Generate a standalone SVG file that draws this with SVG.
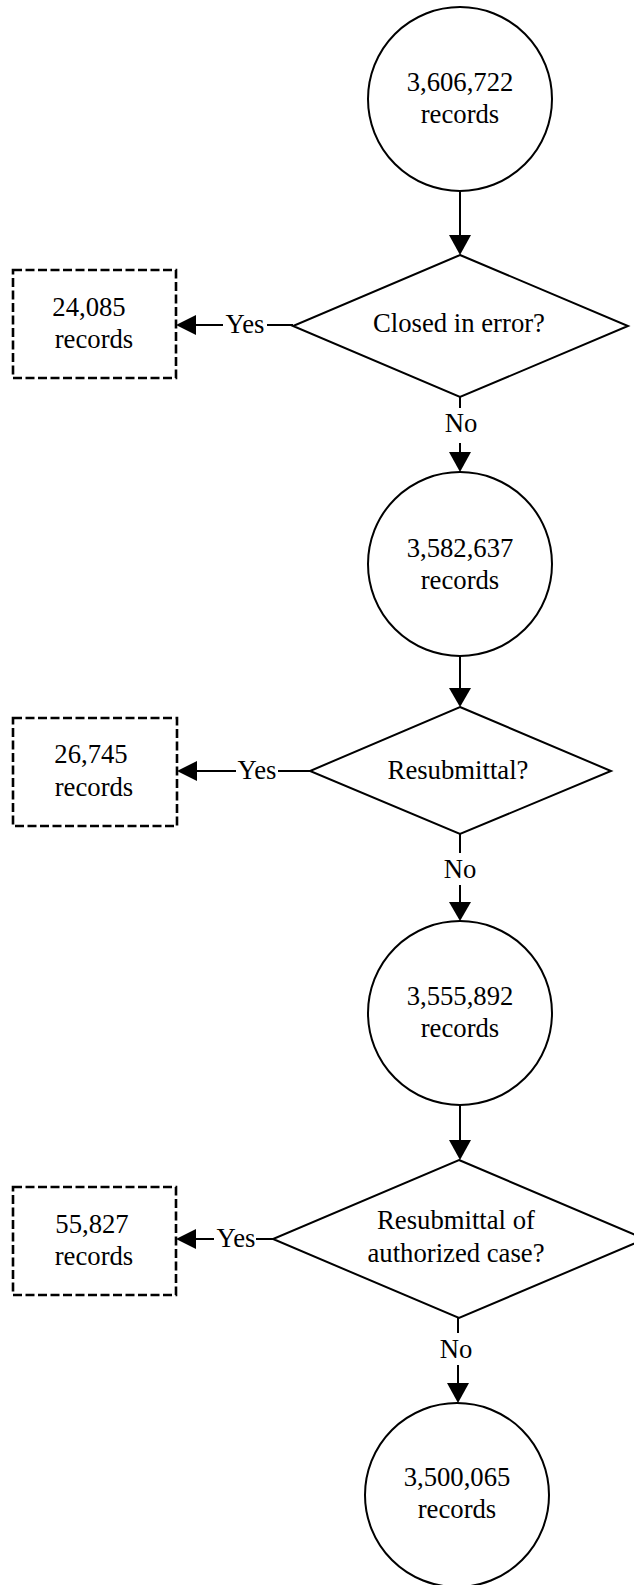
<svg xmlns="http://www.w3.org/2000/svg" width="634" height="1585" viewBox="0 0 634 1585">
<style>
.shape{fill:#fff;stroke:#000;stroke-width:2}
.box{fill:#fff;stroke:#000;stroke-width:2.6;stroke-dasharray:9 3.5}
.line{fill:none;stroke:#000;stroke-width:2}
.head{fill:#000;stroke:none}
text{font-family:"Liberation Serif","Times New Roman",serif;font-size:26.7px;fill:#000;text-anchor:middle}
</style>
<rect width="634" height="1585" fill="#fff"/>
<g id="connectors">
<line class="line" x1="460" y1="191" x2="460" y2="237"/>
<polygon class="head" points="449,235 471,235 460,255"/>
<line class="line" x1="293" y1="325" x2="267" y2="325"/>
<line class="line" x1="223" y1="325" x2="194" y2="325"/>
<polygon class="head" points="196,315 196,335 176,325"/>
<text x="245" y="333">Yes</text>
<line class="line" x1="460" y1="397" x2="460" y2="408"/>
<text x="461" y="432">No</text>
<line class="line" x1="460" y1="443" x2="460" y2="454"/>
<polygon class="head" points="449,452 471,452 460,472"/>
<line class="line" x1="460" y1="656" x2="460" y2="690"/>
<polygon class="head" points="449,688 471,688 460,707"/>
<line class="line" x1="310" y1="771" x2="278" y2="771"/>
<line class="line" x1="236" y1="771" x2="194" y2="771"/>
<polygon class="head" points="197,761 197,781 177,771"/>
<text x="257" y="779">Yes</text>
<line class="line" x1="460" y1="834" x2="460" y2="853"/>
<text x="460" y="878">No</text>
<line class="line" x1="460" y1="885" x2="460" y2="904"/>
<polygon class="head" points="449,902 471,902 460,921"/>
<line class="line" x1="460" y1="1105" x2="460" y2="1142"/>
<polygon class="head" points="449,1140 471,1140 460,1160"/>
<line class="line" x1="273" y1="1239" x2="256" y2="1239"/>
<line class="line" x1="214" y1="1239" x2="194" y2="1239"/>
<polygon class="head" points="196,1229 196,1249 176,1239"/>
<text x="236" y="1247">Yes</text>
<line class="line" x1="458" y1="1318" x2="458" y2="1333"/>
<text x="456" y="1358">No</text>
<line class="line" x1="458" y1="1365" x2="458" y2="1385"/>
<polygon class="head" points="447,1383 469,1383 458,1403"/>
</g>
<g id="start">
<circle class="shape" cx="460" cy="99" r="92"/>
<text x="460" y="91">3,606,722</text>
<text x="460" y="123">records</text>
</g>
<g id="q1">
<polygon class="shape" points="460,255 628,326 460,397 293,326"/>
<text x="459" y="332">Closed in error?</text>
</g>
<g id="out1">
<rect class="box" x="13" y="270" width="163" height="108"/>
<text x="89" y="316">24,085</text>
<text x="94" y="348">records</text>
</g>
<g id="n2">
<circle class="shape" cx="460" cy="564" r="92"/>
<text x="460" y="557">3,582,637</text>
<text x="460" y="589">records</text>
</g>
<g id="q2">
<polygon class="shape" points="460,707 611,771 460,834 310,771"/>
<text x="458" y="779">Resubmittal?</text>
</g>
<g id="out2">
<rect class="box" x="13" y="718" width="164" height="108"/>
<text x="91" y="763">26,745</text>
<text x="94" y="796">records</text>
</g>
<g id="n3">
<circle class="shape" cx="460" cy="1013" r="92"/>
<text x="460" y="1005">3,555,892</text>
<text x="460" y="1037">records</text>
</g>
<g id="q3">
<polygon class="shape" points="459,1160 645,1239 459,1318 273,1239"/>
<text x="456" y="1229">Resubmittal of</text>
<text x="456" y="1262">authorized case?</text>
</g>
<g id="out3">
<rect class="box" x="13" y="1187" width="163" height="108"/>
<text x="92" y="1233">55,827</text>
<text x="94" y="1265">records</text>
</g>
<g id="end">
<circle class="shape" cx="457" cy="1495" r="92"/>
<text x="457" y="1486">3,500,065</text>
<text x="457" y="1518">records</text>
</g>
</svg>
